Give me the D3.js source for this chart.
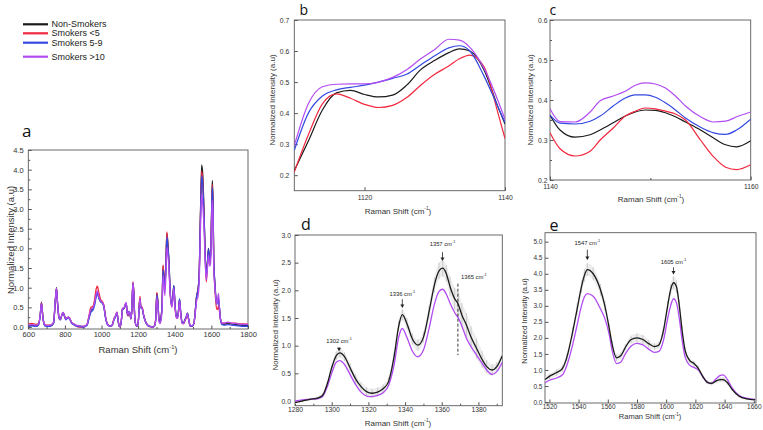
<!DOCTYPE html>
<html lang="en">
<head>
<meta charset="UTF-8" />
<title>Raman spectra of smokers and non-smokers</title>
<script src="https://d3js.org/d3.v7.min.js"></script>
<style>
  body { margin: 0; background: #fff; }
  svg { font-family: "Liberation Sans", Arial, sans-serif; }
  .axis text { fill: #333; }
  .axis line { stroke: #555; }
</style>
</head>
<body>
<svg id="fig" width="763" height="430"></svg>
<script>
// ---- series ----
const seriesNames = ["Non-Smokers", "Smokers <5", "Smokers 5-9", "Smokers >10"];
const seriesColors = ["#1b1b1b", "#f2283e", "#3349e2", "#b24cf2"];

// panel a: full spectrum 600-1800 cm-1
const waveA = [600,620,640,655,665,672,680,690,700,720,
  738,748,754,760,768,775,783,790,797,805,
  813,820,828,836,848,860,880,900,920,932,
  942,952,962,970,977,985,995,1005,1012,1022,
  1032,1045,1058,1068,1076,1084,1090,1096,1102,1108,
  1114,1120,1126,1131,1135,1140,1145,1150,1155,1160,
  1165,1169,1172,1176,1181,1188,1195,1202,1206,1210,
  1215,1222,1230,1240,1252,1265,1280,1290,1296,1302,
  1308,1314,1320,1326,1331,1336,1341,1346,1352,1357,
  1362,1368,1375,1384,1390,1395,1401,1408,1415,1420,
  1426,1432,1440,1448,1455,1462,1469,1476,1484,1495,
  1505,1512,1520,1527,1533,1540,1547,1553,1560,1566,
  1572,1578,1584,1591,1596,1601,1605,1609,1613,1618,
  1623,1629,1634,1639,1644,1650,1658,1670,1690,1710,
  1730,1750,1775,1800];
const aNon = [0.03,0.04,0.03,0.05,0.3,0.63,0.25,0.05,0.03,0.03,
  0.1,0.7,1.0,0.6,0.25,0.2,0.3,0.37,0.3,0.2,
  0.24,0.25,0.2,0.12,0.08,0.04,0.02,0.01,0.05,0.25,
  0.42,0.47,0.6,0.8,0.88,0.75,0.65,0.62,0.55,0.25,
  0.08,0.03,0.05,0.2,0.27,0.37,0.2,0.03,0.02,0.15,
  0.45,0.46,0.5,0.58,0.6,0.37,0.32,0.4,0.36,0.22,
  0.4,0.9,1.12,0.9,0.3,0.05,0.03,0.2,0.55,0.72,
  0.5,0.48,0.3,0.15,0.05,0.02,0.0,0.04,0.2,0.86,
  0.62,0.2,0.16,0.28,0.6,1.55,1.3,1.02,1.7,2.38,
  2.15,1.7,0.92,0.56,0.8,1.05,0.6,0.28,0.25,0.4,
  0.7,0.4,0.12,0.1,0.18,0.25,0.35,0.2,0.04,0.03,
  0.1,0.4,0.8,0.95,1.3,2.8,4.12,3.85,2.9,1.9,
  1.37,1.6,2.0,1.72,1.85,2.9,3.72,3.2,1.7,1.2,
  0.85,0.6,0.65,0.72,0.5,0.2,0.08,0.07,0.1,0.08,
  0.07,0.05,0.04,0.04];
const aLt5 = [0.08,0.09,0.07,0.08,0.3,0.62,0.22,0.06,0.05,0.05,
  0.12,0.68,0.98,0.58,0.22,0.18,0.3,0.36,0.28,0.2,
  0.23,0.25,0.2,0.12,0.07,0.03,0.0,0.0,0.06,0.3,
  0.5,0.52,0.7,0.95,1.04,0.88,0.7,0.64,0.56,0.25,
  0.07,0.02,0.04,0.22,0.28,0.38,0.2,0.02,0.0,0.15,
  0.48,0.47,0.5,0.6,0.6,0.33,0.28,0.38,0.34,0.2,
  0.4,0.92,1.15,0.9,0.28,0.04,0.02,0.22,0.6,0.78,
  0.52,0.5,0.3,0.14,0.04,0.01,0.0,0.04,0.22,0.88,
  0.62,0.18,0.14,0.26,0.62,1.58,1.25,0.95,1.72,2.42,
  2.1,1.6,0.85,0.52,0.78,1.02,0.55,0.25,0.22,0.38,
  0.68,0.36,0.1,0.08,0.15,0.22,0.32,0.17,0.02,0.02,
  0.1,0.42,0.82,0.95,1.3,2.75,3.97,3.7,2.8,1.8,
  1.15,1.5,1.95,1.6,1.8,2.85,3.62,3.1,1.6,1.1,
  0.7,0.45,0.45,0.55,0.4,0.18,0.1,0.1,0.12,0.1,
  0.1,0.08,0.08,0.07];
const a5to9 = [0.02,0.03,0.02,0.04,0.28,0.6,0.22,0.03,0.02,0.02,
  0.1,0.7,0.97,0.58,0.22,0.18,0.3,0.36,0.28,0.18,
  0.22,0.24,0.18,0.1,0.06,0.03,0.01,0.0,0.04,0.22,
  0.38,0.42,0.55,0.75,0.87,0.74,0.64,0.6,0.52,0.22,
  0.06,0.02,0.04,0.18,0.25,0.35,0.18,0.02,0.01,0.14,
  0.44,0.46,0.5,0.58,0.6,0.36,0.3,0.4,0.35,0.21,
  0.38,0.88,1.1,0.88,0.28,0.04,0.02,0.18,0.52,0.7,
  0.48,0.46,0.28,0.13,0.04,0.01,0.0,0.03,0.19,0.82,
  0.6,0.18,0.15,0.26,0.58,1.45,1.22,0.98,1.62,2.3,
  2.08,1.65,0.9,0.55,0.8,1.05,0.6,0.28,0.25,0.4,
  0.72,0.4,0.12,0.1,0.18,0.25,0.35,0.2,0.03,0.02,
  0.1,0.42,0.8,0.94,1.28,2.7,3.85,3.62,2.8,1.85,
  1.3,1.58,1.98,1.7,1.82,2.8,3.55,3.1,1.65,1.18,
  0.82,0.58,0.62,0.68,0.48,0.18,0.06,0.05,0.06,0.05,
  0.04,0.03,0.02,0.02];
const aGt10 = [0.05,0.06,0.05,0.06,0.3,0.6,0.24,0.06,0.04,0.04,
  0.12,0.72,0.98,0.6,0.24,0.2,0.3,0.37,0.3,0.2,
  0.24,0.25,0.2,0.12,0.08,0.05,0.03,0.02,0.06,0.28,
  0.45,0.48,0.62,0.82,0.92,0.78,0.66,0.62,0.55,0.25,
  0.08,0.03,0.05,0.2,0.28,0.38,0.2,0.03,0.02,0.16,
  0.46,0.48,0.52,0.6,0.62,0.36,0.32,0.4,0.36,0.22,
  0.4,0.9,1.12,0.9,0.3,0.05,0.03,0.2,0.55,0.72,
  0.5,0.48,0.3,0.15,0.05,0.02,0.0,0.04,0.18,0.74,
  0.52,0.12,0.09,0.2,0.45,1.31,1.1,0.8,1.4,2.02,
  1.85,1.5,0.85,0.5,0.72,0.98,0.55,0.25,0.22,0.38,
  0.66,0.36,0.1,0.09,0.16,0.24,0.34,0.18,0.04,0.03,
  0.1,0.35,0.68,0.78,1.1,2.4,3.38,3.1,2.5,1.7,
  1.2,1.45,1.83,1.55,1.65,2.6,3.22,2.8,1.45,1.08,
  0.8,0.58,0.72,0.85,0.5,0.2,0.1,0.1,0.12,0.1,
  0.09,0.08,0.07,0.07];

// panel b: 1110-1140 cm-1
const waveB = [1110,1112,1114,1116,1118,1120,1122,1124,1126,1128,1130,1132,1133.5,1135,1137,1139,1140];
const bNon  = [0.215,0.31,0.41,0.465,0.473,0.46,0.452,0.458,0.49,0.54,0.57,0.595,0.607,0.6,0.54,0.42,0.365];
const bLt5  = [0.21,0.33,0.43,0.462,0.448,0.428,0.418,0.425,0.45,0.49,0.525,0.552,0.575,0.587,0.55,0.4,0.318];
const b5to9 = [0.28,0.4,0.455,0.475,0.483,0.49,0.5,0.512,0.525,0.555,0.585,0.61,0.617,0.6,0.52,0.42,0.37];
const bGt10 = [0.295,0.43,0.485,0.493,0.494,0.494,0.5,0.515,0.54,0.575,0.605,0.638,0.635,0.612,0.545,0.44,0.38];

// panel c: 1140-1160 cm-1
const waveC = [1140,1141,1142.5,1144,1145,1146.3,1147.5,1148.5,1149.5,1150.5,1151.5,1152.5,1153.5,1155,1156.3,1157.5,1158.6,1160];
const cNon  = [0.362,0.325,0.307,0.313,0.325,0.343,0.36,0.37,0.375,0.374,0.368,0.358,0.345,0.325,0.305,0.288,0.283,0.298];
const cLt5  = [0.318,0.278,0.26,0.272,0.3,0.33,0.36,0.372,0.38,0.378,0.372,0.365,0.35,0.3,0.258,0.232,0.226,0.238];
const c5to9 = [0.362,0.342,0.34,0.347,0.36,0.385,0.405,0.413,0.413,0.407,0.393,0.375,0.355,0.332,0.318,0.314,0.325,0.352];
const cGt10 = [0.378,0.346,0.345,0.37,0.398,0.41,0.422,0.437,0.443,0.44,0.43,0.41,0.385,0.358,0.345,0.347,0.358,0.37];

// panel d: 1280-1393 cm-1, mean +/- sd
const waveD = [1280,1284,1288,1292,1295,1297.5,1300,1302.5,1304.5,1307,
  1310,1313,1316,1319,1322,1325,1328,1331,1334,1336.5,
  1338.5,1341,1344,1347,1350,1353,1356,1358.5,1360.5,1362.5,
  1364.5,1367,1369,1371,1373.5,1376,1379,1382,1384.5,1387.5,1390,1393];
const dNon = [-0.03,0.0,0.03,0.05,0.1,0.3,0.6,0.82,0.87,0.8,
  0.6,0.4,0.26,0.17,0.14,0.16,0.22,0.35,0.8,1.35,
  1.56,1.4,1.12,1.01,1.15,1.6,2.1,2.35,2.4,2.3,
  2.07,1.85,1.75,1.55,1.37,1.15,0.95,0.75,0.62,0.56,0.62,0.82];
const dGt10 = [0.0,0.02,0.03,0.04,0.08,0.25,0.5,0.7,0.73,0.66,
  0.48,0.3,0.16,0.09,0.08,0.1,0.15,0.28,0.65,1.15,
  1.31,1.15,0.9,0.8,0.92,1.3,1.75,1.98,2.02,1.93,
  1.77,1.6,1.5,1.35,1.13,0.98,0.83,0.68,0.56,0.48,0.53,0.7];
const dErr = [0.02,0.02,0.02,0.03,0.04,0.05,0.06,0.08,0.08,0.08,
  0.08,0.08,0.08,0.08,0.08,0.08,0.08,0.08,0.1,0.1,
  0.1,0.1,0.1,0.1,0.1,0.12,0.14,0.15,0.15,0.15,
  0.18,0.2,0.22,0.22,0.22,0.2,0.18,0.15,0.12,0.1,0.08,0.08];

// panel e: 1517-1661 cm-1, mean +/- sd
const waveE = [1517,1520,1525,1529,1532,1536,1539,1542,1544,1546,
  1550,1555,1558,1561,1563,1566,1569,1572,1576,1580,
  1584,1588,1592,1595,1598,1601,1603,1605,1607,1609,
  1611,1613,1616,1619,1622,1625,1628,1631,1634,1637,
  1639,1642,1645,1650,1655,1661];
const eNon = [0.7,0.8,0.92,1.05,1.4,2.2,2.9,3.6,3.95,4.13,
  4.0,3.5,3.0,2.3,1.8,1.38,1.45,1.7,1.95,2.0,
  1.95,1.82,1.73,1.78,2.2,3.0,3.5,3.72,3.6,3.0,
  2.2,1.6,1.3,1.2,1.05,0.8,0.62,0.58,0.65,0.7,
  0.7,0.6,0.4,0.18,0.1,0.07];
const eGt10 = [0.6,0.68,0.75,0.85,1.15,1.8,2.4,3.0,3.28,3.38,
  3.3,2.9,2.6,2.1,1.6,1.2,1.25,1.5,1.75,1.83,
  1.78,1.65,1.55,1.58,1.9,2.6,3.0,3.22,3.1,2.6,
  1.9,1.4,1.15,1.08,1.0,0.8,0.62,0.58,0.72,0.83,
  0.85,0.7,0.45,0.2,0.12,0.08];
const eErr = [0.08,0.08,0.1,0.1,0.12,0.15,0.18,0.2,0.2,0.2,
  0.2,0.18,0.16,0.14,0.12,0.1,0.1,0.1,0.12,0.14,
  0.14,0.12,0.1,0.1,0.12,0.15,0.18,0.2,0.2,0.18,
  0.14,0.1,0.08,0.08,0.08,0.07,0.06,0.06,0.06,0.07,
  0.07,0.06,0.05,0.04,0.03,0.03];

// ---- tick labels ----
const ticksAx = [600, 800, 1000, 1200, 1400, 1600, 1800];
const ticksAy = [0, 0.5, 1, 1.5, 2, 2.5, 3, 3.5, 4, 4.5];
const ticksBx = [1120, 1140];
const ticksBy = [0.2, 0.3, 0.4, 0.5, 0.6, 0.7];
const ticksCx = [1140, 1160];
const ticksCy = [0.2, 0.3, 0.4, 0.5, 0.6];
const ticksDx = [1280, 1300, 1320, 1340, 1360, 1380];
const ticksDy = [0, 0.5, 1, 1.5, 2, 2.5, 3];
const ticksEx = [1520, 1540, 1560, 1580, 1600, 1620, 1640, 1660];
const ticksEy = [0, 0.5, 1, 1.5, 2, 2.5, 3, 3.5, 4, 4.5, 5];

// peak annotations: label, wavenumber, text level, arrow top, arrow tip
const peaksD = [
  ["1302", 1304, 1.05, 0.97, 0.9],
  ["1336", 1338.5, 1.9, 1.84, 1.68],
  ["1357", 1360.4, 2.8, 2.69, 2.53]
];
const shoulderD = ["1365", 1368.8, 2.2, 2.12, 0.83];
const peaksE = [
  ["1547", 1546, 4.9, 4.75, 4.43],
  ["1605", 1605, 4.3, 4.2, 3.98]
];

const svg = d3.select("#fig");
const fmt1 = d3.format(".1f");

function makePanel(cfg) {
  const g = svg.append("g");
  const x = d3.scaleLinear().domain(cfg.xDomain).range([cfg.left, cfg.right]);
  const y = d3.scaleLinear().domain(cfg.yDomain).range([cfg.bottom, cfg.top]);

  const clipId = "clip-" + cfg.name;
  g.append("clipPath").attr("id", clipId)
    .append("rect")
    .attr("x", cfg.left).attr("y", cfg.top)
    .attr("width", cfg.right - cfg.left).attr("height", cfg.bottom - cfg.top);

  // minor ticks
  if (cfg.xMinor) {
    g.append("g").attr("class", "axis")
      .attr("transform", `translate(0,${cfg.bottom})`)
      .call(d3.axisBottom(x).tickValues(cfg.xMinor).tickFormat("").tickSizeInner(-2).tickSizeOuter(0))
      .call(a => a.select(".domain").remove());
  }
  if (cfg.yMinor) {
    g.append("g").attr("class", "axis")
      .attr("transform", `translate(${cfg.left},0)`)
      .call(d3.axisLeft(y).tickValues(cfg.yMinor).tickFormat("").tickSizeInner(-2).tickSizeOuter(0))
      .call(a => a.select(".domain").remove());
  }

  g.append("g").attr("class", "axis")
    .attr("transform", `translate(0,${cfg.bottom})`)
    .call(d3.axisBottom(x).tickValues(cfg.xTicks).tickFormat(d3.format("d"))
      .tickSizeInner(-3.5).tickSizeOuter(0).tickPadding(cfg.xPad))
    .call(a => a.select(".domain").remove())
    .selectAll("text").attr("font-size", cfg.fs);

  g.append("g").attr("class", "axis")
    .attr("transform", `translate(${cfg.left},0)`)
    .call(d3.axisLeft(y).tickValues(cfg.yTicks).tickFormat(fmt1)
      .tickSizeInner(-3.5).tickSizeOuter(0).tickPadding(cfg.yPad))
    .call(a => a.select(".domain").remove())
    .selectAll("text").attr("font-size", cfg.fs);

  g.append("rect")
    .attr("x", cfg.left).attr("y", cfg.top)
    .attr("width", cfg.right - cfg.left).attr("height", cfg.bottom - cfg.top)
    .attr("fill", "none").attr("stroke", "#5a5a5a").attr("stroke-width", 0.9);

  // axis titles
  const xt = g.append("text")
    .attr("x", cfg.xTitle[0]).attr("y", cfg.xTitle[1])
    .attr("text-anchor", "middle").attr("font-size", cfg.tfs).attr("fill", "#333");
  xt.append("tspan").text("Raman Shift (cm");
  xt.append("tspan").attr("dy", -cfg.tfs * 0.45).attr("font-size", cfg.tfs * 0.6).text("-1");
  xt.append("tspan").attr("dy", cfg.tfs * 0.45).text(")");

  g.append("text")
    .attr("transform", `translate(${cfg.yTitle[0]},${cfg.yTitle[1]}) rotate(-90)`)
    .attr("text-anchor", "middle").attr("font-size", cfg.tfs).attr("fill", "#333")
    .text("Normalized Intensity (a.u)");

  g.append("text")
    .attr("x", cfg.letter[0]).attr("y", cfg.letter[1])
    .attr("font-size", cfg.letter[2]).attr("fill", "#111")
    .attr("font-family", "'Open Sans', 'DejaVu Sans', sans-serif")
    .text(cfg.name);

  const plot = g.append("g").attr("clip-path", `url(#${clipId})`);
  return { x, y, plot, g };
}

function drawLines(p, wave, series, colors, width) {
  const line = d3.line()
    .x((d, i) => p.x(wave[i]))
    .y(d => p.y(d))
    .curve(d3.curveMonotoneX);
  series.forEach((s, k) => {
    p.plot.append("path")
      .datum(s)
      .attr("d", line)
      .attr("fill", "none")
      .attr("stroke", colors[k])
      .attr("stroke-width", width)
      .attr("stroke-linejoin", "round");
  });
}

function drawErrors(p, wave, mean, err) {
  const band = d3.area()
    .x((d, i) => p.x(wave[i]))
    .y0((d, i) => p.y(d - err[i]))
    .y1((d, i) => p.y(d + err[i]))
    .curve(d3.curveMonotoneX);
  p.plot.append("path").datum(mean).attr("d", band).attr("fill", "#ededed");
  p.plot.selectAll(null)
    .data(mean)
    .join("line")
    .attr("x1", (d, i) => p.x(wave[i])).attr("x2", (d, i) => p.x(wave[i]))
    .attr("y1", (d, i) => p.y(d - err[i])).attr("y2", (d, i) => p.y(d + err[i]))
    .attr("stroke", "#c4c4c4").attr("stroke-width", 0.8);
}

function drawArrows(p, peaks, fs) {
  peaks.forEach(([lab, w, yt, ya, yb]) => {
    const t = p.g.append("text")
      .attr("x", p.x(w)).attr("y", p.y(yt))
      .attr("text-anchor", "middle").attr("font-size", fs).attr("fill", "#222");
    t.append("tspan").text(lab + " cm");
    t.append("tspan").attr("dy", -fs * 0.5).attr("font-size", fs * 0.65).text("-1");
    const xa = p.x(w), y1 = p.y(ya), y2 = p.y(yb);
    p.g.append("line").attr("x1", xa).attr("x2", xa).attr("y1", y1).attr("y2", y2 - 2.5)
      .attr("stroke", "#222").attr("stroke-width", 0.8);
    p.g.append("path")
      .attr("d", `M${xa - 2},${y2 - 3.5}L${xa + 2},${y2 - 3.5}L${xa},${y2}Z`)
      .attr("fill", "#222");
  });
}

// ---- panel a ----
const pa = makePanel({
  name: "a", left: 28.3, right: 248, top: 150, bottom: 329,
  xDomain: [600, 1800], yDomain: [-0.05, 4.5],
  xTicks: ticksAx, yTicks: ticksAy,
  xMinor: d3.range(700, 1800, 200), yMinor: d3.range(0.25, 4.5, 0.5),
  xPad: 3, yPad: 4.5, fs: 7.5, tfs: 9.5,
  xTitle: [138, 353], yTitle: [14, 240], letter: [22, 137, 17]
});
drawLines(pa, waveA, [aNon, aLt5, a5to9, aGt10], seriesColors, 1.3);

// ---- panel b ----
const pb = makePanel({
  name: "b", left: 294.3, right: 505, top: 20, bottom: 190.7,
  xDomain: [1110, 1140], yDomain: [0.15, 0.7],
  xTicks: ticksBx, yTicks: ticksBy,
  xPad: 4, yPad: 5, fs: 6.8, tfs: 8,
  xTitle: [398, 214], yTitle: [275, 100], letter: [299.5, 15, 14]
});
drawLines(pb, waveB, [bNon, bLt5, b5to9, bGt10], seriesColors, 1.2);

// ---- panel c ----
const pc = makePanel({
  name: "c", left: 550, right: 750.7, top: 20, bottom: 180,
  xDomain: [1140, 1160], yDomain: [0.2, 0.6],
  xTicks: ticksCx, yTicks: ticksCy,
  xMinor: [1150], yMinor: d3.range(0.25, 0.6, 0.1),
  xPad: 4, yPad: 2.5, fs: 6.8, tfs: 8,
  xTitle: [651, 202], yTitle: [533, 100], letter: [549.5, 15, 14]
});
drawLines(pc, waveC, [cNon, cLt5, c5to9, cGt10], seriesColors, 1.2);

// ---- panel d ----
const pd = makePanel({
  name: "d", left: 295, right: 502.3, top: 235, bottom: 405.7,
  xDomain: [1280, 1393], yDomain: [-0.085, 3.0],
  xTicks: ticksDx, yTicks: ticksDy,
  xMinor: d3.range(1290, 1393, 20),
  xPad: 1.5, yPad: 4, fs: 6.8, tfs: 8,
  xTitle: [398, 426], yTitle: [278, 325], letter: [301, 230, 16]
});
drawErrors(pd, waveD, dNon, dErr);
drawLines(pd, waveD, [dGt10, dNon], [seriesColors[3], seriesColors[0]], 1.3);
drawArrows(pd, peaksD, 5.8);
{
  const [lab, w, yt, ya, yb] = shoulderD;
  const t = pd.g.append("text")
    .attr("x", pd.x(w) + 16).attr("y", pd.y(yt))
    .attr("text-anchor", "middle").attr("font-size", 5.8).attr("fill", "#222");
  t.append("tspan").text(lab + " cm");
  t.append("tspan").attr("dy", -2.9).attr("font-size", 3.8).text("-1");
  pd.g.append("line")
    .attr("x1", pd.x(w)).attr("x2", pd.x(w))
    .attr("y1", pd.y(ya)).attr("y2", pd.y(yb))
    .attr("stroke", "#222").attr("stroke-width", 0.9).attr("stroke-dasharray", "3,2");
}

// ---- panel e ----
const pe = makePanel({
  name: "e", left: 545, right: 756, top: 232.7, bottom: 403,
  xDomain: [1517, 1661.5], yDomain: [-0.03, 5.28],
  xTicks: ticksEx, yTicks: ticksEy,
  xPad: 1.5, yPad: 2.5, fs: 6.5, tfs: 7.5,
  xTitle: [650, 419], yTitle: [527, 321], letter: [549.5, 230.5, 16]
});
drawErrors(pe, waveE, eNon, eErr);
drawLines(pe, waveE, [eGt10, eNon], [seriesColors[3], seriesColors[0]], 1.3);
drawArrows(pe, peaksE, 5.8);

// ---- legend ----
const legendY = [24.3, 33.3, 42.7, 56.7];
const legend = svg.append("g");
seriesNames.forEach((name, i) => {
  legend.append("line")
    .attr("x1", 23).attr("x2", 48).attr("y1", legendY[i]).attr("y2", legendY[i])
    .attr("stroke", seriesColors[i]).attr("stroke-width", 2.2);
  legend.append("text")
    .attr("x", 51.5).attr("y", legendY[i] + 3)
    .attr("font-size", 9).attr("fill", "#222")
    .text(name);
});
</script>
</body>
</html>
